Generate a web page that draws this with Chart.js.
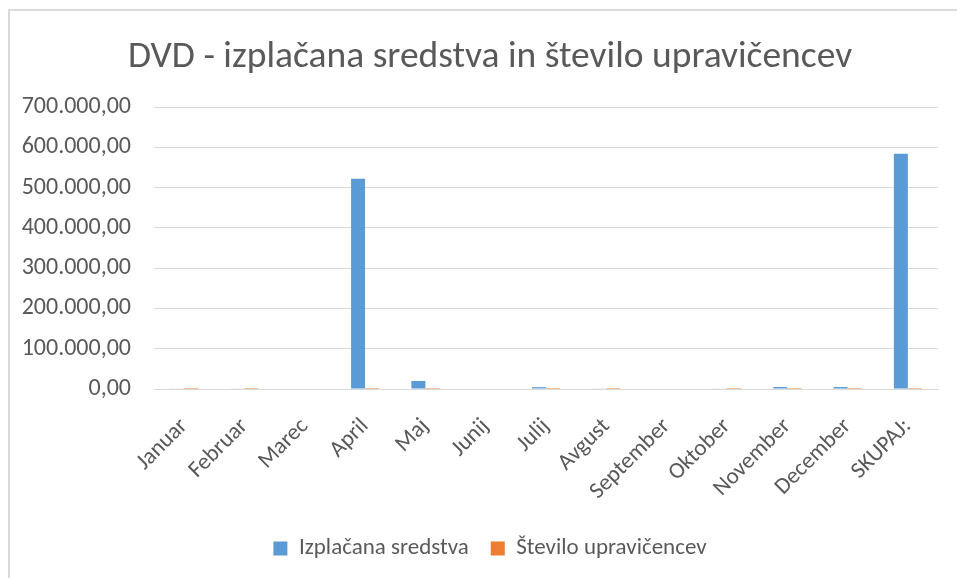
<!DOCTYPE html>
<html>
<head>
<meta charset="utf-8">
<script src="https://cdn.jsdelivr.net/npm/chart.js@4/dist/chart.umd.min.js"></script>
<style>
  html, body { margin: 0; padding: 0; background: #fff; overflow: hidden; width: 957px; height: 578px; }
  #frame { position: absolute; left: 8px; top: 9px; width: 1000px; height: 700px;
           border-top: 2px solid #d9d9d9; border-left: 2px solid #d9d9d9; }
  #c { position: absolute; left: 0; top: 0; }
</style>
</head>
<body>
<div id="frame"></div>
<canvas id="c" width="980" height="578"></canvas>
<script>
const categories = ["Januar", "Februar", "Marec", "April", "Maj", "Junij", "Julij", "Avgust", "September", "Oktober", "November", "December", "SKUPAJ:"];
const izplacanaSredstva = [1500, 1500, 0, 522000, 20000, 0, 4500, 1500, 0, 1500, 5000, 5000, 584000];
const steviloUpravicencev = [1, 1, 0, 12, 3, 0, 2, 1, 0, 1, 2, 2, 25];
const yTicks = [0, 100000, 200000, 300000, 400000, 500000, 600000, 700000];

const FONT = "Carlito, Calibri, Lato, 'Open Sans', sans-serif";
const TEXT = "#595959";

function fmt(v) {
  const s = Math.round(v).toString().replace(/\B(?=(\d{3})+(?!\d))/g, ".");
  return s + ",00";
}

new Chart(document.getElementById("c"), {
  type: "bar",
  data: {
    labels: categories,
    datasets: [
      { label: "Izplačana sredstva", data: izplacanaSredstva, backgroundColor: "#5B9BD5", borderWidth: 0, inflateAmount: 0 },
      { label: "Število upravičencev", data: steviloUpravicencev, backgroundColor: "#ED7D31", borderWidth: 0, inflateAmount: 0 }
    ]
  },
  options: {
    responsive: false,
    animation: false,
    layout: { padding: { left: 0, right: 0, top: 9, bottom: 8 } },
    datasets: { bar: { categoryPercentage: 0.464, barPercentage: 1.0 } },
    plugins: {
      title: {
        display: true,
        text: "DVD - izplačana sredstva in število upravičencev",
        color: TEXT,
        font: { family: FONT, size: 37.5, weight: "300" },
        padding: { top: 26, bottom: 27 }
      },
      legend: {
        position: "bottom",
        labels: {
          color: TEXT,
          font: { family: FONT, size: 23 },
          boxWidth: 14, boxHeight: 14,
          padding: 22
        }
      },
      tooltip: { enabled: false }
    },
    scales: {
      x: {
        grid: { display: false, drawTicks: false },
        border: { color: "#d9d9d9", width: 1 },
        ticks: { color: TEXT, font: { family: FONT, size: 23 }, maxRotation: 45, minRotation: 45, autoSkip: false, padding: 24 },
        afterFit: (s) => { s.height = 126; }
      },
      y: {
        min: 0, max: 700000,
        afterBuildTicks: (s) => { s.ticks = yTicks.map(v => ({ value: v })); },
        grid: { color: "#d9d9d9", drawTicks: false },
        border: { display: false },
        ticks: { color: TEXT, font: { family: FONT, size: 24 }, padding: 23, callback: (v) => fmt(v) },
        afterFit: (s) => { s.width = 154; }
      },
      spacer: {
        type: "linear",
        position: "right",
        grid: { display: false, drawTicks: false, drawOnChartArea: false },
        border: { display: false },
        ticks: { display: false },
        afterFit: (s) => { s.width = 42; }
      }
    }
  }
});
</script>
</body>
</html>
